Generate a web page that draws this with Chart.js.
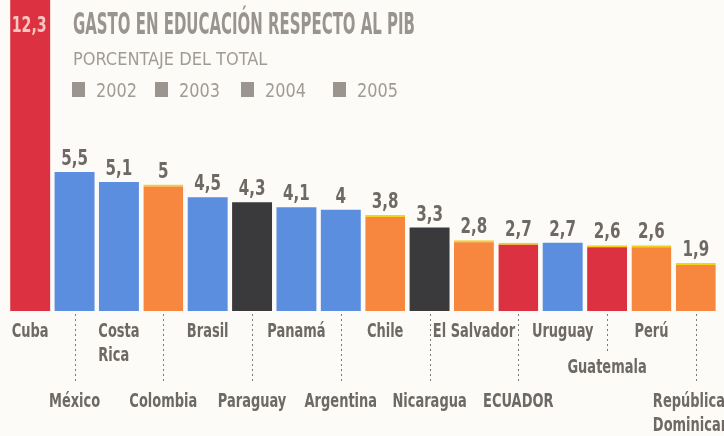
<!DOCTYPE html>
<html>
<head>
<meta charset="utf-8">
<script src="https://cdn.jsdelivr.net/npm/chart.js"></script>
<style>
  html, body { margin: 0; padding: 0; background: #fcfbf8; }
  canvas { display: block; }
</style>
</head>
<body>
<canvas id="gastoChart" width="724" height="436"></canvas>
<script>
// datos
var paises = [["Cuba"], ["México"], ["Costa", "Rica"], ["Colombia"], ["Brasil"], ["Paraguay"], ["Panamá"], ["Argentina"],
  ["Chile"], ["Nicaragua"], ["El Salvador"], ["ECUADOR"], ["Uruguay"], ["Guatemala"], ["Perú"], ["República", "Dominicana"]];
var gasto = [12.3, 5.5, 5.1, 5, 4.5, 4.3, 4.1, 4, 3.8, 3.3, 2.8, 2.7, 2.7, 2.6, 2.6, 1.9];
var anioDato = ["2002", "2003", "2003", "2005", "2003", "2004", "2003", "2003", "2005", "2004", "2005", "2002", "2003", "2002", "2005", "2005"];
var anios = ["2002", "2003", "2004", "2005"];

var colorAnio = { "2002": "#dc3141", "2003": "#5c8ee0", "2004": "#3a3a3c", "2005": "#f7873f" };
var FUENTE = "'DejaVu Sans Condensed', 'Liberation Sans Narrow', sans-serif";
var gris = "#6e6964";
var grisClaro = "#a19b95";

// fila de cada etiqueta (0 arriba, 1 medio, 2 abajo)
var fila = [0, 2, 0, 2, 0, 2, 0, 2, 0, 2, 0, 2, 0, 1, 0, 2];
var baseFila = [337, 373, 407];

function texto(ctx, t, x, y, factor) {
  var w = ctx.measureText(t).width * factor;
  ctx.fillText(t, x, y, w);
  return w;
}

var rotulos = {
  id: "rotulos",
  afterDatasetsDraw: function (chart) {
    var ctx = chart.ctx;
    var meta = chart.getDatasetMeta(0);
    ctx.save();
    // valores sobre las barras
    ctx.textAlign = "center";
    ctx.textBaseline = "alphabetic";
    meta.data.forEach(function (bar, i) {
      var t = String(gasto[i]).replace(".", ",");
      ctx.font = "bold 21px " + FUENTE;
      if (i === 0) {
        ctx.fillStyle = "#f3c6c0";
        texto(ctx, t, bar.x - 1, 32, 0.75);
      } else {
        ctx.fillStyle = gris;
        texto(ctx, t, bar.x, bar.y - 7, 0.8);
      }
    });
    // líneas guía punteadas
    ctx.strokeStyle = "#807a75";
    ctx.lineWidth = 1;
    ctx.setLineDash([2, 3]);
    meta.data.forEach(function (bar, i) {
      if (fila[i] === 0) return;
      var x = Math.round(bar.x) + 0.5;
      ctx.beginPath();
      ctx.moveTo(x, chart.chartArea.bottom + 3);
      ctx.lineTo(x, fila[i] === 1 ? 352 : 383);
      ctx.stroke();
    });
    ctx.setLineDash([]);
    // nombres de países
    ctx.font = "bold 19px " + FUENTE;
    ctx.fillStyle = gris;
    ctx.textAlign = "left";
    meta.data.forEach(function (bar, i) {
      var lineas = paises[i];
      var anchoMax = 0;
      lineas.forEach(function (l) { anchoMax = Math.max(anchoMax, ctx.measureText(l).width * 0.76); });
      var x0 = bar.x - anchoMax / 2;
      lineas.forEach(function (l, k) {
        texto(ctx, l, x0, baseFila[fila[i]] + k * 24, 0.76);
      });
    });
    // título, subtítulo y leyenda
    ctx.fillStyle = "#9a948f";
    ctx.font = "bold 30px " + FUENTE;
    ctx.fillText("GASTO EN EDUCACIÓN RESPECTO AL PIB", 73, 34, 342);
    ctx.fillStyle = grisClaro;
    ctx.font = "18px " + FUENTE;
    ctx.fillText("PORCENTAJE DEL TOTAL", 73, 65, 209);
    var cuadX = [72, 155, 241, 333];
    ctx.font = "20px " + FUENTE;
    anios.forEach(function (a, k) {
      ctx.fillStyle = "#9c958f";
      ctx.fillRect(cuadX[k], 82, 13, 15);
      ctx.fillStyle = grisClaro;
      ctx.fillText(a, cuadX[k] + 24, 97, 41);
    });
    ctx.restore();
  }
};

var ctx = document.getElementById("gastoChart").getContext("2d");
var grafico = new Chart(ctx, {
  type: "bar",
  data: {
    labels: paises.map(function (p) { return p.join(" "); }),
    datasets: [{
      data: gasto,
      backgroundColor: anioDato.map(function (a) { return colorAnio[a]; }),
      borderColor: "#f2d21a",
      borderWidth: anioDato.map(function (a, i) {
        return (i > 0 && (a === "2002" || a === "2005")) ? { top: 2, left: 0, right: 0, bottom: 0 } : 0;
      }),
      borderSkipped: "bottom",
      barPercentage: 0.9,
      categoryPercentage: 1.0
    }]
  },
  options: {
    responsive: false,
    animation: false,
    layout: { padding: { left: 8, right: 6, top: 0, bottom: 125 } },
    scales: {
      x: { display: false },
      y: { display: false, min: 0, max: 12.3 }
    },
    plugins: {
      legend: { display: false },
      tooltip: { enabled: false }
    }
  },
  plugins: [rotulos]
});
</script>
</body>
</html>
